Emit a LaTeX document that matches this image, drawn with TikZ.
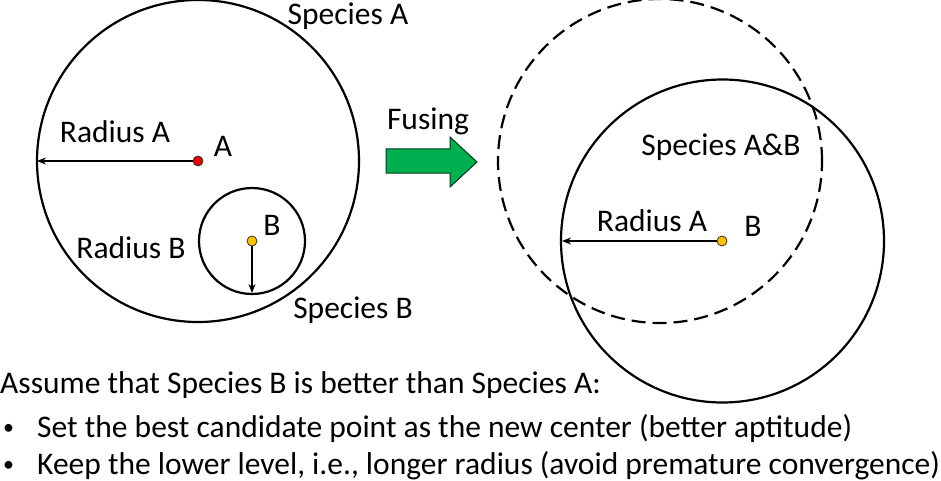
\documentclass[tikz,border=0pt]{standalone}
\usepackage{fontspec}
\setmainfont{Carlito}
\usetikzlibrary{arrows.meta}
\definecolor{fusegreen}{RGB}{0,176,80}
\definecolor{dotred}{RGB}{230,0,0}
\definecolor{dotyellow}{RGB}{255,192,0}
\begin{document}
\begin{tikzpicture}[x=1pt,y=-1pt,
  circ/.style={draw=black,line width=2.2pt},
  dot/.style={circle,draw=black!80,line width=0.8pt,inner sep=0pt,minimum size=10pt},
  radarrow/.style={line width=1.2pt,-{Stealth[length=9pt,width=7pt]}},
  lbl/.style={font=\fontsize{31.5}{36}\selectfont,inner sep=0pt},
  body/.style={font=\fontsize{31.5}{36}\selectfont,inner sep=0pt,anchor=base west}]
\useasboundingbox (0,0) rectangle (941,481);
% left
\node[circ,circle,minimum size=322pt,inner sep=0pt] (SA) at (198,161) {};
\node[circ,circle,minimum size=106pt,inner sep=0pt] (SB) at (252,241) {};
\node[dot,fill=dotred] (cA) at (198,161) {};
\node[dot,fill=dotyellow] (cB) at (252,241) {};
\coordinate (eA) at (37,161);
\coordinate (eB) at (252,293);
\draw[radarrow] (cA) -- (eA);
\draw[radarrow] (cB) -- (eB);
\node[lbl] (tSA) at (348,16) {Species A};
\node[lbl] (tRA) at (115,132) {Radius A};
\node[lbl] (tA) at (223,146) {A};
\node[lbl] (tB) at (272,225) {B};
\node[lbl] (tRB) at (131,248) {Radius B};
\node[lbl] (tSB) at (353,310) {Species B};
% fusing arrow
\node[lbl] (tF) at (428,121) {Fusing};
\draw[fill=fusegreen,draw=black!70!fusegreen,line width=1pt] (386,149) -- (450,149) -- (450,137) -- (477,162) -- (450,187) -- (450,173) -- (386,173) -- cycle;
% right
\node[circ,circle,dashed,dash pattern=on 14pt off 7pt,minimum size=324pt,inner sep=0pt] (SAB) at (660,161) {};
\node[circ,circle,minimum size=323pt,inner sep=0pt] (SN) at (722.5,241) {};
\node[dot,fill=dotyellow] (cN) at (722,241) {};
\coordinate (eN) at (562,241);
\draw[radarrow] (cN) -- (eN);
\node[lbl] (tSAB) at (721,147) {Species A\&B};
\node[lbl] (tRN) at (652,221) {Radius A};
\node[lbl] (tBN) at (753,226) {B};
% text
\node[body] (l1) at (0,393) {Assume that Species B is better than Species A:};
\node[body,font=\fontsize{22}{26}\selectfont] (b1) at (3,434) {•};
\node[body] (l2) at (37,437) {Set the best candidate point as the new center (better aptitude)};
\node[body,font=\fontsize{22}{26}\selectfont] (b2) at (3,471) {•};
\node[body] (l3) at (37,474) {Keep the lower level, i.e., longer radius (avoid premature convergence)};
\end{tikzpicture}
\end{document}
